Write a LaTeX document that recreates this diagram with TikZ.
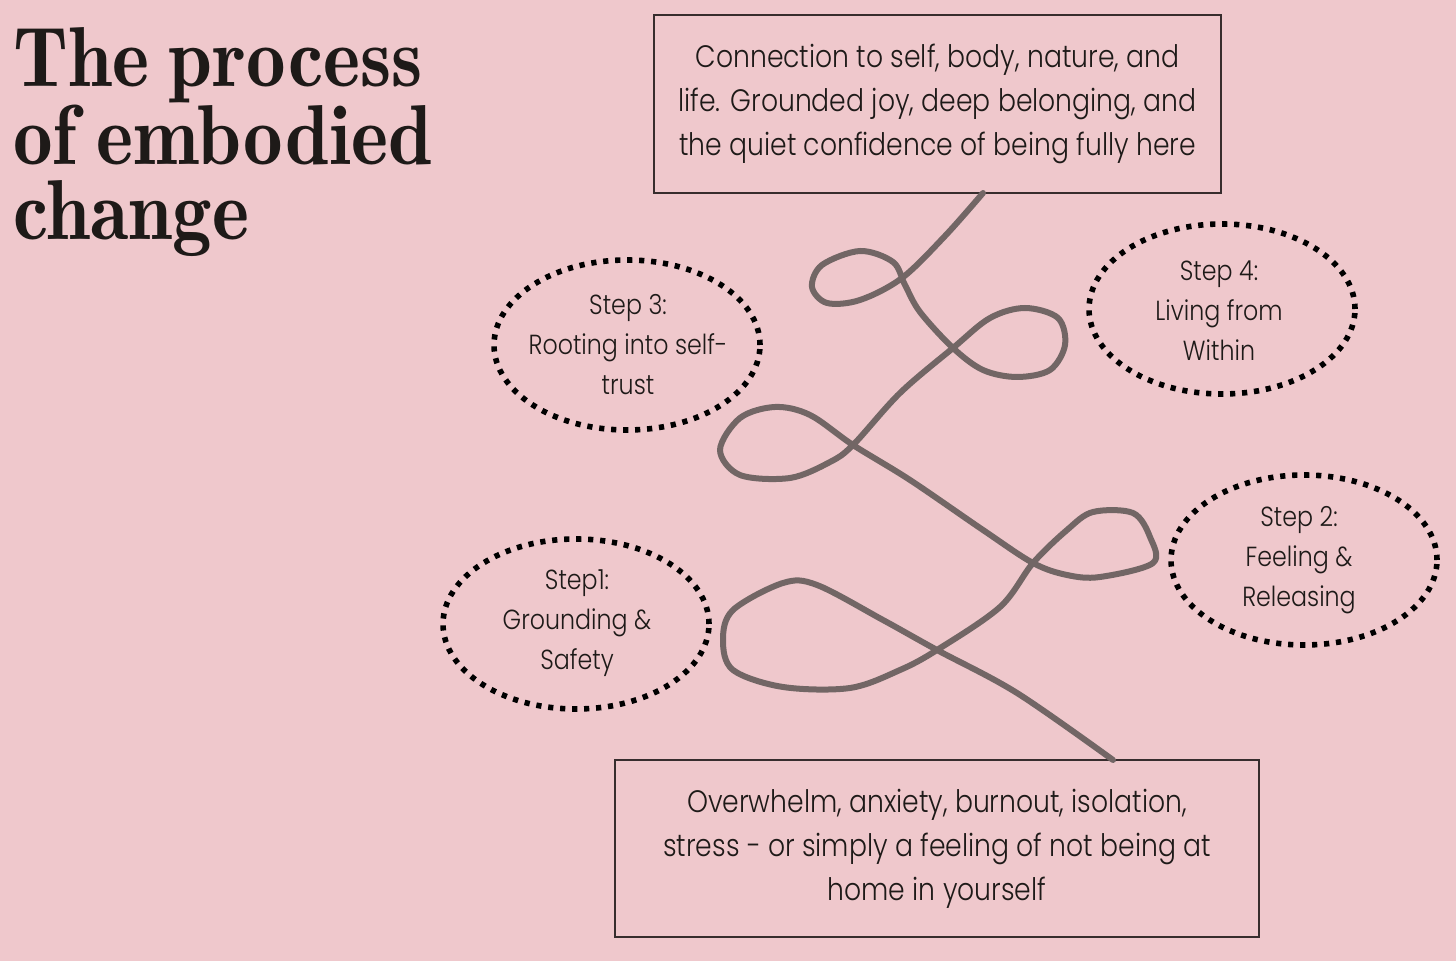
\documentclass[tikz,border=0pt]{standalone}
\usepackage{fontspec}
\newfontfamily\stepfont{Poppins}[UprightFont=* Light, FakeStretch=0.86]
\newfontfamily\titlefont{lmromandemi10-regular.otf}[FakeStretch=0.93, WordSpace=0.75]
\usetikzlibrary{shapes.geometric}
\definecolor{bgpink}{RGB}{239,200,204}
\definecolor{loopgray}{RGB}{114,102,101}
\definecolor{boxline}{RGB}{55,45,45}
\definecolor{inkdark}{RGB}{30,26,24}

\tikzset{
  statebox/.style={draw=boxline, line width=0.9pt, minimum width=283.5pt, minimum height=89pt,
    align=center, inner sep=0pt, font=\stepfont\fontsize{15.5}{22}\selectfont, text=inkdark},
  stepoval/.style={ellipse, draw=black, line width=2.8pt, dash pattern=on 2.6pt off 3.4pt,
    minimum width=133pt, minimum height=85pt, inner sep=0pt},
  steptext/.style={align=center, inner sep=0pt, font=\stepfont\fontsize{13.8}{20}\selectfont, text=inkdark},
}

\begin{document}
\begin{tikzpicture}[x=0.5pt, y=-0.5pt]

    % background and page size
    \fill[bgpink] (0,0) rectangle (1456,961);
    \useasboundingbox (0,0) rectangle (1456,961);

    % Title
    \node[anchor=north west, inner sep=0pt, align=left, text=inkdark,
          font=\titlefont\fontsize{42.5}{37.5}\selectfont] (title) at (13,27)
          {The process\\of embodied\\change};

    % Start and end states
    \node[statebox] (goal) at (937.5,104)
        {Connection to self, body, nature, and\\life. Grounded joy, deep belonging, and\\the quiet confidence of being fully here};
    \node[statebox, minimum width=322pt, minimum height=88.5pt] (start) at (937,848.5)
        {Overwhelm, anxiety, burnout, isolation,\\stress - or simply a feeling of not being at\\home in yourself};

    % Steps (dotted ovals)
    \node[stepoval] (step1) at (576,624) {};
    \node[steptext] (step1txt) at (577,623) {Step1:\\Grounding \&\\Safety};

    \node[stepoval] (step2) at (1304,560) {};
    \node[steptext] (step2txt) at (1299,560) {Step 2:\\Feeling \&\\Releasing};

    \node[stepoval] (step3) at (627,345) {};
    \node[steptext] (step3txt) at (628,345) {Step 3:\\Rooting into self-\\trust};

    \node[stepoval] (step4) at (1222,309) {};
    \node[steptext] (step4txt) at (1219,311) {Step 4:\\Living from\\Within};

    % The looping path from the bottom box up to the top box
    \coordinate (pathtop) at (983,193);
    \coordinate (pathbottom) at (1113,760);
    \draw[loopgray, line width=3pt, line cap=round, line join=round]
        plot[smooth, tension=0.55] coordinates {
        (pathtop) (945,236) (902,278) (860,300) (827,303) (812,287) (822,265)
        (860,251) (893,262) (905,285) (920,312) (953,348) (983,370) (1017,377)
        (1050,370) (1065,345) (1058,318) (1025,308) (990,318) (953,348)
        (900,393) (853,445) (830,462) (790,478) (740,475) (720,450) (740,418)
        (775,407) (810,415) (853,445) (910,480) (983,530) (1033,563)
        (1067,575) (1100,577) (1153,563) (1150,537) (1133,513) (1093,512)
        (1067,530) (1033,563) (1000,607) (937,650) (900,670) (850,688)
        (783,687) (733,670) (723,640) (733,610) (783,583) (817,585)
        (883,620) (937,650) (1017,693) (pathbottom)};

\end{tikzpicture}
\end{document}
